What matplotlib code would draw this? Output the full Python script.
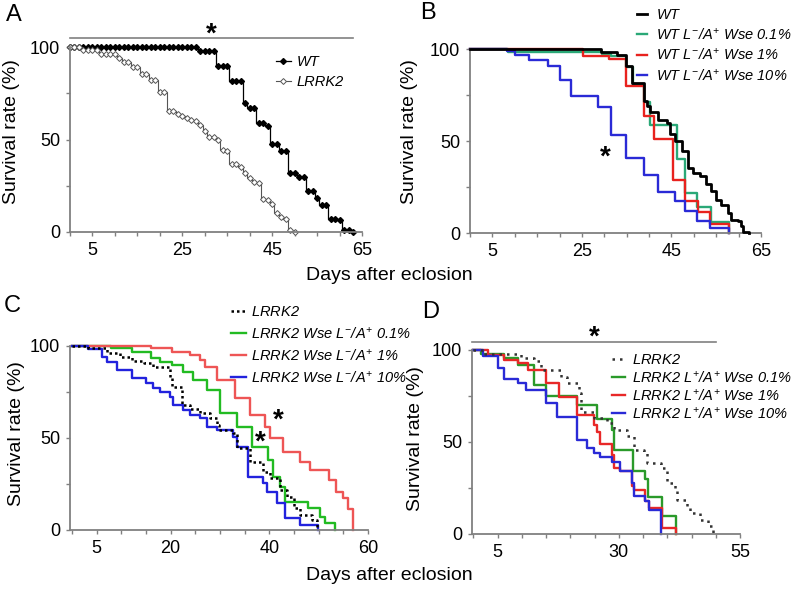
import matplotlib
matplotlib.use("Agg")
import matplotlib.pyplot as plt
from matplotlib.ticker import FixedLocator, MultipleLocator

plt.rcParams['font.family'] = 'Liberation Sans'
plt.rcParams['mathtext.fontset'] = 'custom'
plt.rcParams['mathtext.it'] = 'Liberation Sans:italic'
plt.rcParams['mathtext.rm'] = 'Liberation Sans:italic'
plt.rcParams['mathtext.sf'] = 'Liberation Sans:italic'

# ---------------- data ----------------
# panel A: daily survival (%), day 0 .. end
wt_a = [100, 100, 100, 100, 100, 100, 100, 100, 100, 100,
        100, 100, 100, 100, 100, 100, 100, 100, 100, 100,
        100, 100, 100, 100, 100, 100, 100, 100, 100, 97.6,
        97.6, 97.6, 97.6, 90.0, 90.0, 90.0, 81.7, 81.7, 81.7, 69.8,
        66.8, 66.8, 58.7, 58.7, 57.5, 47.6, 47.6, 43.6, 43.6, 31.8,
        31.8, 29.6, 29.6, 21.9, 21.9, 18.3, 14.7, 14.7, 7.2, 7.2,
        6.3, 1.3, 1.3, 0]
lrrk2_a = [100, 100, 100, 98.6, 98.6, 98.6, 98.6, 96.0, 96.0, 96.0,
           96.0, 94.0, 92.0, 92.0, 89.0, 89.0, 85.5, 85.5, 82.0, 82.0,
           75.5, 75.5, 65.2, 65.2, 63.7, 62.5, 61.4, 60.3, 59.8, 57.8,
           54.6, 51.5, 51.2, 49.7, 44.3, 44.0, 36.8, 36.6, 35.4, 31.8,
           29.1, 26.8, 26.4, 17.8, 17.5, 15.3, 10.2, 8.1, 7.2, 1.3, 0]

# panel B: Kaplan-Meier steps (day, survival %)
wt_b_t = [0, 29.3, 32.9, 34.8, 36.1, 38.8, 39.5, 40.1, 42.1, 44.0, 44.7, 45.8, 47.3,
          48.75, 49.9, 51.3, 52.8, 53.9, 55.0, 56.1, 57.6, 58.3, 59.8, 60.5, 60.9, 62.4]
wt_b_s = [100, 98.4, 96.5, 90.6, 81.5, 71.6, 69.0, 66.0, 61.6, 60.0, 54.0, 50.2, 44.4,
          35.5, 32.6, 30.8, 26.6, 22.6, 18.1, 15.4, 10.9, 7.2, 6.3, 3.6, 0.5, 0]
g01_b_t = [0, 8.5, 29.5, 31.5, 34.8, 36.5, 38.8, 40.3, 46.2, 48.0, 50.6, 53.9, 57.9]
g01_b_s = [100, 98.2, 97.3, 96.0, 90.0, 80.6, 71.0, 58.6, 40.2, 22.0, 14.1, 5.8, 0]
g1_b_t = [0, 25.2, 31.1, 34.8, 38.8, 41.0, 45.4, 48.0, 51.0, 53.5, 57.9]
g1_b_s = [100, 96.4, 94.6, 79.7, 63.4, 50.9, 29.0, 17.4, 11.4, 5.0, 0]
g10_b_t = [0, 8.3, 10.1, 13.1, 17.5, 20.1, 22.6, 28.5, 31.5, 34.8, 38.8, 42.1, 45.8,
           48.0, 50.6, 53.5, 57.9]
g10_b_s = [100, 98.7, 96.9, 94.2, 90.9, 83.3, 74.3, 68.5, 53.4, 40.8, 31.7, 22.1, 17.2,
           11.8, 6.3, 2.7, 0]

# panel C
lrrk2_c_t = [0, 3.3, 7.0, 9.7, 12.1, 14.5, 16.5, 19.9, 20.2, 22.2, 24.0, 26.0, 28.0,
             29.3, 29.7, 32.7, 33.4, 36.1, 38.8, 40.1, 42.2, 43.5, 44.9, 46.2, 48.6, 49.6]
lrrk2_c_s = [100, 98.7, 96.4, 94.2, 91.8, 90.5, 88.4, 83.3, 77.9, 67.9, 66.0, 63.4, 60.7,
             57.0, 54.3, 52.5, 44.4, 37.1, 31.7, 28.0, 21.7, 18.1, 11.8, 8.2, 5.4, 0]
g01_c_t = [0, 8.0, 12.1, 16.1, 17.8, 20.2, 22.6, 24.6, 27.3, 30.0, 33.4, 36.4, 39.8,
           40.8, 42.2, 43.2, 47.9, 50.3, 51.3, 53.3]
g01_c_s = [100, 98.7, 96.9, 93.3, 91.5, 89.7, 86.0, 81.5, 76.1, 63.4, 56.2, 45.3, 38.0,
           29.0, 23.6, 15.4, 11.8, 7.2, 3.6, 0]
g1_c_t = [0, 16.1, 20.2, 23.9, 25.9, 27.0, 29.3, 33.0, 36.1, 39.1, 40.1, 42.8, 46.2,
          48.2, 52.0, 53.6, 55.0, 56.0, 57.0]
g1_c_s = [100, 98.7, 96.9, 95.1, 92.4, 88.4, 81.5, 71.6, 62.5, 56.2, 49.8, 42.6, 37.1,
          32.6, 27.2, 20.8, 17.2, 11.2, 0]
g10_c_t = [0, 3.3, 6.0, 7.0, 9.1, 12.1, 15.1, 16.5, 17.8, 19.9, 20.5, 22.6, 23.9, 26.0,
           27.3, 29.3, 32.7, 33.4, 35.7, 38.8, 39.5, 41.5, 43.2, 46.2, 49.9]
g10_c_s = [100, 98.4, 94.2, 91.5, 87.0, 82.4, 79.7, 77.0, 75.2, 72.5, 67.9, 65.2, 62.5,
           60.7, 56.2, 54.3, 50.7, 44.9, 29.0, 25.4, 20.8, 14.5, 6.3, 2.7, 0]

# panel D
lrrk2_d_t = [0, 1.9, 4.3, 9.8, 12.5, 13.9, 18.0, 19.4, 21.8, 22.1, 24.9, 27.6, 29.0,
             31.7, 33.1, 35.1, 35.8, 38.6, 39.9, 41.6, 42.0, 44.0, 44.7, 46.8, 48.5, 49.5]
lrrk2_d_s = [100, 97.8, 97.6, 95.9, 94.0, 89.2, 85.2, 81.9, 76.5, 66.5, 62.9, 60.2, 56.6,
             53.0, 45.8, 43.9, 38.5, 35.8, 27.7, 25.0, 18.6, 15.0, 11.4, 7.8, 4.2, 0]
g01_d_t = [0, 1.6, 6.4, 9.1, 12.5, 14.9, 21.4, 25.5, 28.6, 29.0, 32.9, 35.5, 36.0, 38.9, 41.8]
g01_d_s = [100, 97.6, 95.5, 91.9, 81.0, 75.1, 70.2, 62.4, 56.6, 45.8, 34.3, 29.8, 20.0, 9.6, 0]
g1_d_t = [0, 2.9, 6.4, 9.1, 11.2, 14.9, 17.7, 21.4, 24.9, 25.5, 26.2, 28.6, 29.0, 30.3,
          32.7, 33.1, 35.5, 36.2, 38.9, 41.8]
g1_d_s = [100, 97.3, 94.6, 93.1, 89.2, 81.9, 74.3, 64.6, 59.3, 55.7, 48.8, 43.0, 35.8, 34.0,
          25.9, 24.0, 17.7, 14.1, 3.3, 0]
g10_d_t = [0, 1.9, 5.0, 6.4, 9.1, 10.8, 14.9, 17.3, 21.4, 23.5, 24.9, 26.2, 28.6, 30.3,
           32.7, 33.1, 35.5, 36.2, 38.6]
g10_d_s = [100, 96.9, 90.4, 84.2, 81.9, 78.3, 71.1, 63.8, 51.2, 46.7, 44.0, 42.1, 39.4, 34.0,
           27.7, 20.4, 17.7, 13.2, 0]

lab_b = [r'$WT$',
         r'$WT\ L^{-}/A^{+}\ Wse\ 0.1\%$',
         r'$WT\ L^{-}/A^{+}\ Wse\ 1\%$',
         r'$WT\ L^{-}/A^{+}\ Wse\ 10\%$']
lab_c = [r'$LRRK2$',
         r'$LRRK2\ Wse\ L^{-}/A^{+}\ 0.1\%$',
         r'$LRRK2\ Wse\ L^{-}/A^{+}\ 1\%$',
         r'$LRRK2\ Wse\ L^{-}/A^{+}\ 10\%$']
lab_d = [r'$LRRK2$',
         r'$LRRK2\ L^{+}/A^{+}\ Wse\ 0.1\%$',
         r'$LRRK2\ L^{+}/A^{+}\ Wse\ 1\%$',
         r'$LRRK2\ L^{+}/A^{+}\ Wse\ 10\%$']

# ---------------- layout ----------------
W, H = 792, 590
fig = plt.figure(figsize=(W / 100, H / 100), dpi=100)


def fx(x):
    return x / W


def fy(y):
    return 1 - y / H


def make_ax(l, t, r, b, xlim, major):
    ax = fig.add_axes([fx(l), fy(b), (r - l) / W, (b - t) / H])
    ax.set_xlim(*xlim)
    ax.set_ylim(0, 100)
    for s in ['top', 'right']:
        ax.spines[s].set_visible(False)
    for s in ['left', 'bottom']:
        ax.spines[s].set_color('#808080')
        ax.spines[s].set_linewidth(1.3)
    ax.xaxis.set_major_locator(FixedLocator(major))
    ax.xaxis.set_minor_locator(MultipleLocator(5))
    ax.yaxis.set_major_locator(FixedLocator([0, 50, 100]))
    ax.yaxis.set_minor_locator(FixedLocator([25, 75]))
    ax.tick_params(which='both', direction='out', color='#808080', width=1, labelsize=13)
    ax.tick_params(which='major', length=3, pad=4)
    ax.tick_params(which='minor', length=3)
    return ax


def star(ax, x, y):
    ax.text(x, y, '*', fontsize=20, fontweight='bold', ha='center', va='center')


grey = '#808080'

# ---- A ----
axA = make_ax(70, 47, 362, 232, (0, 65), [5, 25, 45, 65])
axA.plot(range(len(wt_a)), wt_a, color='black', lw=0.9, marker='D', ms=3,
         mfc='black', mec='black', drawstyle='steps-mid', clip_on=False, label='WT')
axA.plot(range(len(lrrk2_a)), lrrk2_a, color='#555555', lw=0.8, marker='D', ms=3,
         mfc='white', mec='#555555', mew=0.7, drawstyle='steps-mid', clip_on=False, label='LRRK2')
axA.plot([0, 63], [105, 105], color=grey, lw=1.2, clip_on=False)
star(axA, 31.5, 106.5)
axA.legend(loc='upper left', bbox_to_anchor=(fx(276), fy(55)), bbox_transform=fig.transFigure,
           frameon=False, handlelength=1.0, handletextpad=0.4, labelspacing=0.4,
           borderpad=0, borderaxespad=0, numpoints=1, prop={'style': 'italic', 'size': 10.5})

# ---- B ----
axB = make_ax(470, 49, 761, 233, (0, 65), [5, 25, 45, 65])
hb = []
for t, s, c, lw in [(wt_b_t, wt_b_s, 'black', 2.0), (g01_b_t, g01_b_s, '#2aa877', 1.7),
                    (g1_b_t, g1_b_s, '#e8221e', 1.7), (g10_b_t, g10_b_s, '#2a2ad6', 1.7)]:
    hb.append(axB.plot(t, s, color=c, lw=lw, drawstyle='steps-post', clip_on=False)[0])
for h in hb[1:]:
    h.set_zorder(2)
hb[0].set_zorder(3)
star(axB, 30.2, 41)
axB.legend(hb, lab_b, loc='upper left', bbox_to_anchor=(fx(637), fy(8)),
           bbox_transform=fig.transFigure, frameon=False, handlelength=0.7,
           handletextpad=0.6, labelspacing=0.3, borderpad=0, borderaxespad=0,
           prop={'size': 10.5})

# ---- C ----
axC = make_ax(70, 346, 368, 530, (-0.4, 60), [5, 20, 40, 60])
hc = [axC.plot(lrrk2_c_t, lrrk2_c_s, color='black', lw=1.8, ls=(0, (1, 1.2)),
               drawstyle='steps-post', clip_on=False, zorder=4)[0]]
for t, s, c in [(g01_c_t, g01_c_s, '#22bb22'), (g1_c_t, g1_c_s, '#ee5555'),
                (g10_c_t, g10_c_s, '#2222dd')]:
    hc.append(axC.plot(t, s, color=c, lw=1.7, drawstyle='steps-post', clip_on=False)[0])
star(axC, 38.1, 47.5)
star(axC, 41.8, 59.5)
axC.legend(hc, lab_c, loc='upper left', bbox_to_anchor=(fx(231), fy(305)),
           bbox_transform=fig.transFigure, frameon=False, handlelength=1.0,
           handletextpad=0.4, labelspacing=0.42, borderpad=0, borderaxespad=0,
           prop={'size': 10.5})

# ---- D ----
axD = make_ax(472, 350, 740, 534, (-0.3, 55), [5, 30, 55])
hd = [axD.plot(lrrk2_d_t, lrrk2_d_s, color='#333333', lw=1.8, ls=(0, (1, 2)),
               drawstyle='steps-post', clip_on=False, zorder=4)[0]]
for t, s, c in [(g01_d_t, g01_d_s, '#2a9a2a'), (g1_d_t, g1_d_s, '#e82828'),
                (g10_d_t, g10_d_s, '#2a2ad6')]:
    hd.append(axD.plot(t, s, color=c, lw=1.7, drawstyle='steps-post', clip_on=False)[0])
axD.plot([-0.3, 50.1], [104.3, 104.3], color=grey, lw=1.2, clip_on=False)
star(axD, 25, 106.5)
axD.legend(hd, lab_d, loc='upper left', bbox_to_anchor=(fx(612), fy(353)),
           bbox_transform=fig.transFigure, frameon=False, handlelength=0.9,
           handletextpad=0.5, labelspacing=0.15, borderpad=0, borderaxespad=0,
           prop={'size': 10.5})

# ---- labels ----
for x, y in [(12, 132), (410, 132), (17, 434), (415, 439)]:
    fig.text(fx(x), fy(y), 'Survival rate (%)', rotation=90, fontsize=14,
             ha='center', va='center')
for y in [276, 576]:
    fig.text(fx(389), fy(y), 'Days after eclosion', fontsize=14, ha='center', va='center')
for s, x, y in [('A', 14, 15), ('B', 428, 13), ('C', 12, 306), ('D', 431, 312)]:
    fig.text(fx(x), fy(y), s, fontsize=17, ha='center', va='center')

fig.savefig('out.png', dpi=100)
